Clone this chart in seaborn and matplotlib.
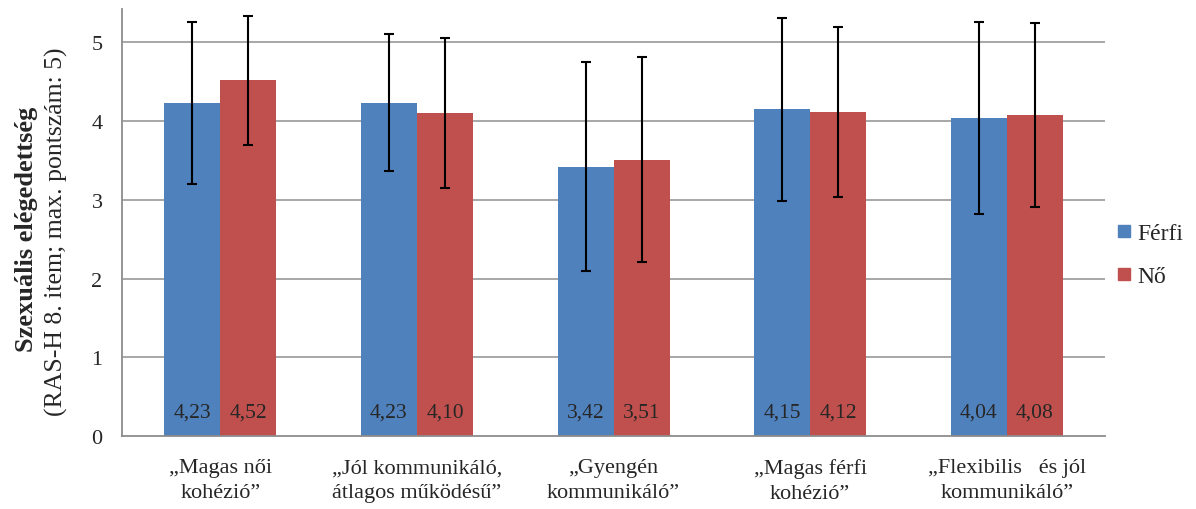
import seaborn as sns
import matplotlib.pyplot as plt
import pandas as pd
from matplotlib.lines import Line2D
from matplotlib.ticker import FixedLocator

categories = ["„Magas női\nkohézió”", "„Jól kommunikáló,\nátlagos működésű”",
              "„Gyengén\nkommunikáló”", "„Magas férfi\nkohézió”",
              "„Flexibilis   és jól\nkommunikáló”"]
series = ["Férfi", "Nő"]
ferfi_mean = [4.23, 4.23, 3.42, 4.15, 4.04]
no_mean = [4.52, 4.10, 3.51, 4.12, 4.08]
ferfi_sd = [1.03, 0.87, 1.33, 1.16, 1.22]
no_sd = [0.82, 0.95, 1.30, 1.08, 1.17]
yticks = [0, 1, 2, 3, 4, 5]

palette = ["#4F81BD", "#C0504D"]

rows = []
for i, c in enumerate(categories):
    rows.append({"cat": c, "sex": "Férfi", "value": ferfi_mean[i], "sd": ferfi_sd[i]})
    rows.append({"cat": c, "sex": "Nő", "value": no_mean[i], "sd": no_sd[i]})
df = pd.DataFrame(rows)

sns.set_style("white")
plt.rcParams["font.family"] = ["Liberation Serif", "DejaVu Serif"]

fig = plt.figure(figsize=(11.96, 5.10), dpi=100)
ax = fig.add_axes([0.102, 0.143, 0.822, 0.837])

sns.barplot(data=df, x="cat", y="value", hue="sex", hue_order=series,
            palette=palette, errorbar=None, width=0.57, gap=0,
            saturation=1, edgecolor="none", ax=ax, legend=False, zorder=2)

sds = {"Férfi": ferfi_sd, "Nő": no_sd}
for cont, s in zip(ax.containers, series):
    for j, rect in enumerate(cont):
        xc = rect.get_x() + rect.get_width() / 2
        h = rect.get_height()
        ax.errorbar(xc, h, yerr=sds[s][j], color="black", lw=1.5,
                    capsize=3.5, capthick=1.5, zorder=3)
        ax.text(xc, 0.3, f"{h:.2f}".replace(".", ","), ha="center",
                va="center", fontsize=15.5, zorder=4)

ax.set_ylim(0, 5.42)
ax.set_xlim(-0.5, len(categories) - 0.5)
ax.set_yticks(yticks)
for y in yticks[1:]:
    ax.axhline(y, color="#A0A0A0", lw=1.3, zorder=0)

for side in ["top", "right"]:
    ax.spines[side].set_visible(False)
for side in ["left", "bottom"]:
    ax.spines[side].set_color("#8C8C8C")
    ax.spines[side].set_linewidth(1.3)

ax.tick_params(axis="y", direction="inout", length=8, width=1.2,
               color="#8C8C8C", labelsize=16, pad=10)
ax.tick_params(axis="x", which="major", length=0, labelsize=16, pad=16)
ax.xaxis.set_minor_locator(FixedLocator([k - 0.5 for k in range(len(categories) + 1)]))
ax.tick_params(axis="x", which="minor", direction="out", length=6, width=1.2,
               color="#8C8C8C")
for lab in ax.get_xticklabels():
    lab.set_linespacing(1.4)
ax.set_xlabel("")
ax.set_ylabel("")

fig.text(0.022, 0.55, "Szexuális elégedettség", rotation=90, ha="center",
         va="center", fontsize=19, fontweight="bold")
fig.text(0.047, 0.545, "(RAS-H 8. item; max. pontszám: 5)", rotation=90,
         ha="center", va="center", fontsize=18.5)

handles = [Line2D([], [], marker="s", ls="", markersize=8, color=c) for c in palette]
ax.legend(handles, series, loc="center left", bbox_to_anchor=(1.0, 0.424),
          frameon=False, fontsize=17, labelspacing=0.9, handlelength=0.6,
          handletextpad=0.25, borderaxespad=0.1)

fig.savefig("out.png", dpi=100)
